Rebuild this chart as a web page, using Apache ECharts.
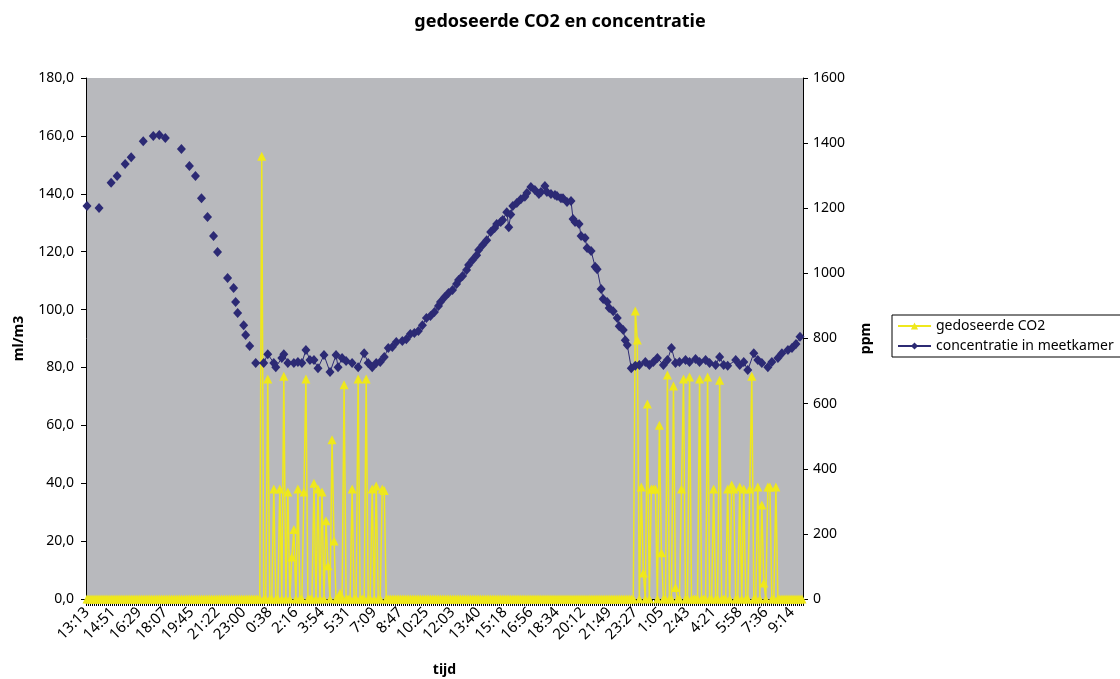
<!DOCTYPE html>
<html><head><meta charset="utf-8">
<script src="https://cdn.jsdelivr.net/npm/echarts@6/dist/echarts.min.js"></script>
<style>html,body{margin:0;padding:0;background:#fff}#c{width:1120px;height:679px}</style>
</head><body><div id="c"></div>
<script>
const chartTitle = 'gedoseerde CO2 en concentratie';
const leftAxisName = 'ml/m3';
const rightAxisName = 'ppm';
const xAxisName = 'tijd';
const seriesNames = ['gedoseerde CO2', 'concentratie in meetkamer'];

// time labels shown on the category axis (one every 13 samples)
const tickLabels = ['13:13','14:51','16:29','18:07','19:45','21:22','23:00','0:38','2:16','3:54','5:31','7:09','8:47','10:25',
  '12:03','13:40','15:18','16:56','18:34','20:12','21:49','23:27','1:05','2:43','4:21','5:58','7:36','9:14'];
const samplesPerLabel = 13;

// gedoseerde CO2 (ml/m3), one value per sample
const dosedCO2 = [
  0,0,0,0,0,0,0,0,0,0,0,0,0,0,0,0,0,0,0,0,
  0,0,0,0,0,0,0,0,0,0,0,0,0,0,0,0,0,0,0,0,
  0,0,0,0,0,0,0,0,0,0,0,0,0,0,0,0,0,0,0,0,
  0,0,0,0,0,0,0,0,0,0,0,0,0,0,0,0,0,0,0,0,
  0,0,0,0,0,0,0,153,0,0,76,0,0,38,0,0,38,0,77,0,
  37,0,14.5,24,0,38,0,0,37,76,0,0,0,40,0,38,0,37,0,27,
  11.5,0,55,20,0,0,2,0,74,0,0,0,38,0,0,76,0,0,0,76,
  0,0,38,0,39,0,0,38,37.5,0,0,0,0,0,0,0,0,0,0,0,
  0,0,0,0,0,0,0,0,0,0,0,0,0,0,0,0,0,0,0,0,
  0,0,0,0,0,0,0,0,0,0,0,0,0,0,0,0,0,0,0,0,
  0,0,0,0,0,0,0,0,0,0,0,0,0,0,0,0,0,0,0,0,
  0,0,0,0,0,0,0,0,0,0,0,0,0,0,0,0,0,0,0,0,
  0,0,0,0,0,0,0,0,0,0,0,0,0,0,0,0,0,0,0,0,
  0,0,0,0,0,0,0,0,0,0,0,0,0,99.5,89.5,0,38.7,9,0,67.4,
  0,38,38,38,0,60,16,0,0,77.4,0,0,73.6,4,0,0,38,76,0,0,
  76.7,0,0,0,0,76,0,0,0,76.7,0,0,38,0,0,75.6,0,0,0,38,
  0,39.4,38,0,0,38.7,0,38,0,0,38,77,0,0,38.7,0,32.5,5.5,0,38.7,
  38.7,0,0,38.7,0,0,0,0,0,0,0,0,0,0,0,0,0
];

// concentratie in meetkamer (ppm): [sample index, value]; early part measured with gaps
const concEarly = [[0,1207],[6,1201],[12,1278],[15,1299],[19,1336],[22,1357],[28,1406],[33,1422],[36,1425],[39,1416],
  [47,1382],[51,1330],[54,1299],[57,1231],[60,1173],[63,1115],[65,1066],[70,986],[73,955],[74,912],[75,878],[78,841],[79,811],[81,777]];
const concLate = [[84,725],[88,725],[90,752],[93,725],[94,712],[97,740],[98,752],[100,725],[103,725],[105,728],[107,725],
  [109,765],[111,734],[113,734],[115,709],[118,749],[121,697],[124,749],[125,712],[127,740],[129,731],[132,725],[135,712],
  [138,755],[140,725],[142,712],[144,725],[146,728],[148,743],[150,771],[152,774],[154,789],[157,792],[159,798],[161,814],
  [163,817],[165,823],[167,841],[169,863],[171,869],[173,881],[175,900],[176,912],[178,927],[180,940],[182,949],[184,967],
  [185,980],[187,992],[189,1010],[190,1026],[192,1041],[194,1056],[195,1072],[197,1087],[199,1102],[201,1127],[203,1139],
  [204,1152],[206,1158],[207,1164],[209,1188],[210,1142],[211,1181],[212,1207],[214,1216],[216,1228],[218,1235],[219,1247],
  [221,1265],[223,1256],[225,1244],[226,1250],[228,1268],[229,1250],[231,1244],[233,1241],[234,1238],[236,1231],[237,1231],
  [239,1219],[241,1222],[242,1167],[243,1158],[245,1152],[246,1115],[248,1109],[249,1078],[251,1069],[253,1020],[254,1013],
  [256,952],[257,921],[259,912],[260,894],[262,884],[264,863],[265,838],[267,826],[268,795],[269,780],[271,709],[273,716],
  [275,719],[278,728],[280,719],[282,728],[284,740],[287,719],[289,734],[291,771],[293,725],[295,728],[298,734],[300,728],
  [303,737],[305,728],[308,734],[310,725],[313,719],[315,743],[317,719],[319,716],[323,734],[325,719],[327,728],[329,703],
  [332,755],[334,734],[336,725],[339,712],[341,728],[344,740],[346,755],[349,765],[351,771],[353,783],[355,805]];

const categories = dosedCO2.map((_, i) => String(i));
const FONT = 'Noto Sans';
const YELLOW = '#efe81c';
const NAVY = '#2c2a74';

const chart = echarts.init(document.getElementById('c'), null, {renderer: 'canvas'});
chart.setOption({
  animation: false,
  backgroundColor: '#ffffff',
  textStyle: {fontFamily: FONT},
  title: {text: chartTitle, left: 'center', top: 8,
    textStyle: {fontFamily: FONT, fontSize: 18, fontWeight: 'bold', color: '#000'}},
  grid: {left: 86, right: 317, top: 78, bottom: 80, show: true, backgroundColor: '#b8b9bd', borderWidth: 0,
    containLabel: false, outerBoundsMode: 'none'},
  legend: {
    data: seriesNames, orient: 'vertical', left: 892, top: 315,
    itemWidth: 33, itemHeight: 9, itemGap: 6,
    padding: [4, 40, 4, 5],
    borderColor: '#000', borderWidth: 1, backgroundColor: '#fff',
    textStyle: {fontFamily: FONT, fontSize: 14, color: '#000'}
  },
  xAxis: {
    type: 'category', data: categories, boundaryGap: true,
    name: xAxisName, nameLocation: 'middle', nameGap: 64,
    nameTextStyle: {fontFamily: FONT, fontSize: 14, fontWeight: 'bold', color: '#000'},
    axisLine: {show: true, lineStyle: {color: '#000', width: 1}},
    axisTick: {show: true, interval: 0, length: 7, lineStyle: {color: '#000'}},
    axisLabel: {interval: samplesPerLabel - 1, rotate: 45, margin: 11, fontSize: 15, color: '#000',
      formatter: (v, i) => (i % samplesPerLabel === 0 ? (tickLabels[i / samplesPerLabel] || '') : '')},
    splitLine: {show: false}
  },
  yAxis: [{
    type: 'value', position: 'left', min: 0, max: 180, interval: 20,
    name: leftAxisName, nameLocation: 'middle', nameGap: 60, nameRotate: 90,
    nameTextStyle: {fontFamily: FONT, fontSize: 14, fontWeight: 'bold', color: '#000'},
    axisLine: {show: true, lineStyle: {color: '#000'}},
    axisTick: {show: true, length: 5, lineStyle: {color: '#000'}},
    axisLabel: {margin: 12, fontSize: 14, color: '#000', formatter: v => v.toFixed(1).replace('.', ',')},
    splitLine: {show: false}
  }, {
    type: 'value', position: 'right', min: 0, max: 1600, interval: 200,
    name: rightAxisName, nameLocation: 'middle', nameGap: 56, nameRotate: 90,
    nameTextStyle: {fontFamily: FONT, fontSize: 14, fontWeight: 'bold', color: '#000'},
    axisLine: {show: true, lineStyle: {color: '#000'}},
    axisTick: {show: true, length: 5, lineStyle: {color: '#000'}},
    axisLabel: {margin: 10, fontSize: 14, color: '#000', formatter: v => String(v)},
    splitLine: {show: false}
  }],
  series: [{
    name: seriesNames[0], type: 'line', yAxisIndex: 0, data: dosedCO2,
    symbol: 'triangle', symbolSize: [9, 9], showAllSymbol: true,
    itemStyle: {color: YELLOW}, lineStyle: {color: YELLOW, width: 1.5}, z: 2
  }, {
    name: seriesNames[1], type: 'line', yAxisIndex: 1, data: concLate,
    symbol: 'diamond', symbolSize: [9, 10], showAllSymbol: true,
    itemStyle: {color: NAVY}, lineStyle: {color: NAVY, width: 1}, z: 3
  }, {
    name: seriesNames[1], type: 'line', yAxisIndex: 1, data: concEarly,
    symbol: 'diamond', symbolSize: [9, 10], showAllSymbol: true,
    itemStyle: {color: NAVY}, lineStyle: {color: NAVY, width: 1, opacity: 0}, z: 3
  }]
});
</script>
</body></html>
